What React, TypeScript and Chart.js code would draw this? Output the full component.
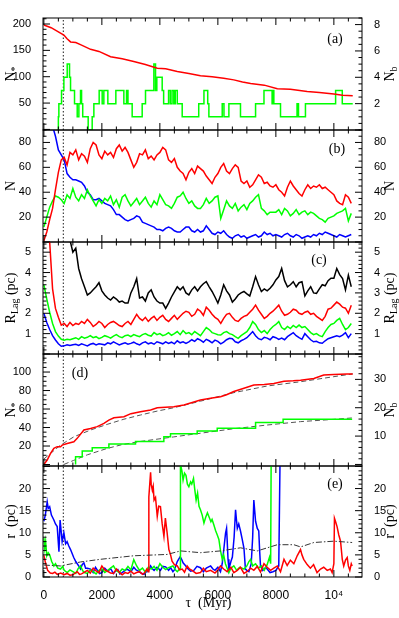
import React, { useEffect, useRef } from 'react';
import { Chart, registerables } from 'chart.js';

Chart.register(...registerables);

const W = 399;
const H = 618;

// ---------------- shared axis ----------------
const TAU_MIN = -30;
const TAU_MAX = 10970;
const TAU_MAJOR = 2000;
const TAU_MINOR = 500;
const TAU_TICKS = [0, 2000, 4000, 6000, 8000, 10000];
const DOTTED_TAU = 670;

// ---------------- panel (a) ----------------
const aRedTau = [0, 250, 500, 690, 800, 920, 1100, 1300, 1610, 1900, 2300, 2700, 3100, 3500, 3910, 4200, 4600, 5000, 5400, 5800, 6200, 6550, 6850, 7130, 7600, 8050, 8500, 9080, 9500, 10000, 10300, 10650];
const aRedN = [198, 193, 185, 179, 172, 166, 165, 160, 152, 148, 138, 134, 129, 123, 116, 115, 110, 106, 102, 100, 97, 94, 90, 87, 84, 77, 76, 72, 70, 67, 65, 64];
const aGreenTau = [500, 517, 609, 690, 805, 885, 920, 1057, 1150, 1207,
  1264, 1300, 1340, 1528, 1666, 1724, 1907, 2011, 2068, 2206,
  2482, 2758, 2850, 2900, 3045, 3390, 3505, 3793, 3850, 3895,
  4080, 4130, 4300, 4360, 4420, 4480, 4530, 4600, 4770, 5340,
  5520, 5650, 5690, 6150, 6210, 6380, 6780, 7300, 7590, 7870,
  7900, 7930, 8160, 8730, 8780, 9020, 10060, 10290, 10600, 10650];
const aGreenNb = [0, 1, 2, 3, 4, 5, 4, 3, 2, 1,
  2, 3, 2, 1, 0, 1, 2, 3, 2, 3,
  2, 3, 2, 3, 2, 1, 2, 3, 5, 3,
  4, 3, 2, 3, 2, 3, 2, 3, 2, 1,
  2, 3, 2, 1, 2, 1, 2, 1, 2, 3,
  2, 3, 2, 1, 2, 1, 2, 3, 2, 2];
const aLeftTicks = [50, 100, 150, 200];
const aRightTicks = [2, 4, 6, 8];

// ---------------- panels (b), (c): 100 Myr grid ----------------
const gridTau = [0, 100, 200, 300, 400, 500, 600, 700, 800, 900,
  1000, 1100, 1200, 1300, 1400, 1500, 1600, 1700, 1800, 1900,
  2000, 2100, 2200, 2300, 2400, 2500, 2600, 2700, 2800, 2900,
  3000, 3100, 3200, 3300, 3400, 3500, 3600, 3700, 3800, 3900,
  4000, 4100, 4200, 4300, 4400, 4500, 4600, 4700, 4800, 4900,
  5000, 5100, 5200, 5300, 5400, 5500, 5600, 5700, 5800, 5900,
  6000, 6100, 6200, 6300, 6400, 6500, 6600, 6700, 6800, 6900,
  7000, 7100, 7200, 7300, 7400, 7500, 7600, 7700, 7800, 7900,
  8000, 8100, 8200, 8300, 8400, 8500, 8600, 8700, 8800, 8900,
  9000, 9100, 9200, 9300, 9400, 9500, 9600, 9700, 9800, 9900,
  10000, 10100, 10200, 10300, 10400, 10500, 10600];

const bRed = [1, 8, 18, 27, 42, 56, 66, 68, 62, 72,
  70, 74, 66, 71, 69, 64, 75, 80, 78, 70,
  67, 73, 70, 72, 68, 75, 78, 73, 76, 72,
  66, 60, 64, 71, 70, 74, 67, 69, 66, 70,
  72, 76, 74, 66, 64, 67, 60, 57, 55, 50,
  56, 59, 55, 61, 59, 57, 53, 50, 47, 52,
  55, 60, 63, 57, 55, 59, 62, 60, 49, 47,
  49, 44, 46, 50, 54, 52, 47, 48, 45, 44,
  46, 42, 40, 37, 44, 49, 45, 42, 39, 37,
  42, 46, 43, 45, 44, 46, 43, 44, 42, 40,
  38, 33, 31, 30, 38, 36, 31];
const bGreen = [12, 20, 28, 33, 37, 36, 34, 31, 38, 35,
  43, 36, 33, 38, 35, 42, 37, 33, 29, 34,
  31, 35, 33, 37, 30, 34, 28, 36, 38, 33,
  29, 32, 35, 30, 33, 36, 31, 28, 33, 30,
  38, 34, 30, 29, 27, 31, 36, 37, 40, 35,
  31, 33, 29, 27, 27, 30, 35, 31, 33, 36,
  37, 19, 26, 33, 29, 27, 31, 25, 28, 30,
  26, 31, 33, 36, 38, 27, 25, 22, 24, 24,
  24, 26, 22, 27, 25, 21, 23, 26, 22, 24,
  25, 22, 24, 23, 21, 19, 18, 16, 19, 20,
  21, 23, 24, 25, 27, 17, 23];
const bBlue = [125, 112, 100, 93, 85, 74, 70, 66, 55, 52,
  50, 50, 49, 48, 45, 40, 38, 34, 34, 35,
  33, 31, 30, 29, 26, 22, 22, 20, 18, 17,
  18, 19, 21, 20, 16, 15, 14, 13, 12, 10,
  10, 9, 11, 12, 11, 9, 8, 8, 10, 12,
  12, 9, 8, 10, 8, 9, 13, 10, 7, 6,
  8, 7, 9, 6, 4, 3, 5, 6, 4, 5,
  3, 4, 5, 6, 4, 5, 8, 6, 7, 5,
  6, 5, 4, 6, 7, 5, 4, 6, 5, 3,
  4, 5, 4, 6, 5, 7, 6, 8, 7, 6,
  5, 4, 6, 5, 4, 5, 6];
const bTicks = [20, 40, 60, 80];

const cRed = [12, 7.5, 5.5, 3.2, 2.24, 1.8, 1.42, 1.5, 1.35, 1.55,
  1.4, 1.5, 1.45, 1.6, 1.5, 1.7, 1.55, 1.35, 1.45, 1.6,
  1.5, 1.3, 1.45, 1.55, 1.6, 1.5, 1.4, 1.35, 1.5, 1.6,
  1.45, 1.7, 1.95, 1.75, 1.65, 1.8, 1.6, 1.75, 1.85, 1.65,
  1.8, 1.9, 1.7, 1.6, 1.75, 1.9, 1.7, 1.85, 2.0, 2.1,
  2.05, 1.85, 1.95, 2.2, 2.1, 1.9, 2.3, 2.15, 1.95, 1.8,
  1.7, 1.5, 1.75, 1.95, 2.0, 1.8, 1.65, 1.6, 1.75, 1.85,
  1.9, 2.05, 2.2, 2.4, 2.15, 1.95, 1.75, 1.85, 2.0, 2.1,
  2.25, 2.4, 2.1, 1.9, 1.95, 2.05, 2.2, 2.15, 2.0, 1.95,
  2.05, 2.1, 1.95, 2.0, 1.85, 1.75, 1.65, 1.85, 2.2, 2.25,
  2.4, 2.55, 2.45, 2.3, 2.25, 2.0, 2.4];
const cGreen = [3.4, 2.7, 2.05, 1.5, 1.1, 0.88, 0.72, 0.68, 0.72, 0.7,
  0.75, 0.8, 0.72, 0.85, 0.78, 0.82, 0.9, 0.8, 0.85, 0.75,
  0.82, 0.9, 0.85, 0.78, 0.88, 0.95, 0.85, 0.8, 0.9, 0.93,
  0.85, 0.95, 0.9, 0.85, 0.95, 1.0, 0.92, 0.88, 1.05, 0.95,
  1.0, 0.9, 0.95, 1.05, 0.92, 1.0, 1.1, 0.95, 1.15, 1.0,
  1.05, 0.95, 1.1, 1.0, 0.9, 1.1, 1.3, 1.2, 1.05, 1.0,
  0.95, 0.93, 1.05, 1.1, 1.0, 0.95, 0.85, 0.77, 0.9, 1.0,
  1.1, 1.3, 1.59, 1.45, 1.2, 1.05, 1.15, 1.0, 1.2, 1.35,
  1.45, 1.59, 1.3, 1.2, 1.35, 1.25, 1.4, 1.3, 1.42, 1.3,
  1.35, 1.2, 1.05, 0.95, 1.0, 0.9, 0.85, 1.1, 1.3, 1.45,
  1.5, 1.65, 1.75, 1.45, 1.2, 1.3, 1.5];
const cBlue = [2.0, 1.55, 1.2, 0.9, 0.69, 0.5, 0.38, 0.4, 0.45, 0.42,
  0.45, 0.48, 0.42, 0.5, 0.45, 0.4, 0.48, 0.52, 0.45, 0.5,
  0.48, 0.45, 0.55, 0.5, 0.6, 0.52, 0.45, 0.5, 0.55, 0.48,
  0.52, 0.58, 0.5, 0.45, 0.55, 0.6, 0.5, 0.55, 0.48, 0.6,
  0.55, 0.5, 0.6, 0.52, 0.58, 0.5, 0.65, 0.55, 0.6, 0.52,
  0.6, 0.7, 0.62, 0.75, 0.68, 0.58, 0.72, 0.65, 0.55, 0.68,
  0.62, 0.5, 0.58, 0.7, 0.77, 0.75, 0.6, 0.55, 0.65, 0.72,
  0.8, 0.95, 1.1, 0.9, 0.75, 0.7, 0.82, 0.78, 0.7, 0.85,
  0.8, 0.72, 0.78, 0.7, 0.85, 0.95, 1.05, 0.9, 0.8, 0.72,
  1.0, 0.85, 0.7, 0.6, 0.62, 0.55, 0.53, 0.65, 0.75, 0.8,
  0.85, 0.9, 0.85, 0.93, 1.05, 0.8, 1.0];
const cBlack = [null, null, null, null, null, null, null, null, null, 5.6,
  5.0, 5.2, 4.2, 3.7, 3.3, 2.9, 3.0, 3.15, 3.3, 3.5,
  3.1, 2.9, 2.75, 2.65, 2.8, 2.7, 2.55, 2.6, 2.5, 2.5,
  3.0, 3.3, 3.7, 2.75, 2.8, 2.6, 3.0, 3.15, 2.8, 2.6,
  2.5, 2.5, 2.24, 2.5, 2.8, 3.05, 3.3, 3.15, 3.3, 3.0,
  2.9, 3.15, 3.3, 3.1, 3.3, 3.45, 3.55, 3.3, 3.07, 2.8,
  2.5, 2.9, 3.4, 3.1, 2.9, 2.55, 2.7, 2.9, 3.0, 3.07,
  2.95, 2.85, 3.3, 3.8, 3.4, 3.07, 3.2, 3.1, 3.23, 3.4,
  3.64, 3.8, 4.2, 3.6, 3.3, 3.4, 3.55, 3.3, 3.5, 3.55,
  2.85, 3.1, 3.3, 3.0, 2.98, 3.2, 3.4, 3.35, 3.6, 3.72,
  3.72, 4.2, 3.9, 3.7, 3.15, 3.87, 3.3];
const cTicks = [1, 2, 3, 4, 5];

// ---------------- panel (d) ----------------
const dRedTau = [0, 115, 230, 345, 460, 575, 632, 805, 1035, 1150,
  1380, 1610, 1840, 2070, 2240, 2415, 2760, 3000, 3330, 3680,
  3910, 4480, 4830, 5400, 5800, 6090, 6300, 6550, 6900, 7240,
  7600, 7930, 8280, 8600, 8850, 9310, 9650, 10000, 10460, 10650];
const dRedN = [0, 4.9, 12, 17.5, 19.3, 19.3, 21, 22.8, 24.6, 28.3,
  37.3, 39, 41, 44.5, 48, 50.6, 51.7, 55, 57, 58.9,
  61.4, 62.5, 64.3, 69.7, 72, 73.3, 75.5, 78.9, 82.5, 85.9,
  86.5, 87.6, 90.1, 90.6, 91.2, 93, 96.8, 97.2, 97.8, 98];
const dRedFitTau = [0, 575, 1035, 1610, 2180, 2760, 3330, 3910, 4480, 5400, 6550, 7700, 8850, 10000, 10650];
const dRedFitN = [6, 21, 30, 37.3, 43.4, 49, 53.5, 57.8, 61.4, 68.5, 77.7, 84.9, 89.5, 95, 98];
const dGreenTau = [1093, 1093, 1323, 1668, 2242, 3160, 4137, 4367, 5287, 5978, 7300, 8250, 9080, 10630];
const dGreenNb = [0, 1.5, 2.7, 4.7, 5.9, 7.2, 8.1, 9.8, 10.8, 11.8, 12.8, 14.8, 15.9, 15.9];
const dGreenFitTau = [690, 1020, 1500, 2170, 2700, 3320, 4470, 5390, 6550, 7700, 8850, 10000, 10630];
const dGreenFitNb = [0, 1.4, 3.4, 5.6, 7.0, 8.1, 9.7, 11, 12.6, 13.9, 15.1, 15.9, 16.4];
const dLeftTicks = [20, 40, 60, 80, 100];
const dRightTicks = [10, 20, 30];

// ---------------- panel (e) ----------------
const eRedTau = [0, 50, 130, 220, 300, 380, 460, 580, 700, 800,
  900, 1000, 1080, 1150, 1230, 1300, 1400, 1500, 1600, 1700,
  1800, 1900, 2000, 2100, 2200, 2300, 2400, 2500, 2600, 2700,
  2800, 2900, 3000, 3100, 3200, 3300, 3400, 3480, 3550, 3600,
  3620, 3680, 3700, 3740, 3770, 3800, 3850, 3910, 3960, 4020,
  4080, 4140, 4190, 4250, 4310, 4370, 4420, 4500, 4600, 4680,
  4770, 4850, 4940, 5020, 5110, 5250, 5400, 5500, 5600, 5750,
  5900, 6000, 6090, 6200, 6320, 6450, 6550, 6670, 6780, 6900,
  7000, 7130, 7240, 7360, 7470, 7590, 7700, 7820, 7930, 8050,
  8160, 8280, 8390, 8500, 8620, 8735, 8850, 8900, 8960, 9080,
  9190, 9300, 9420, 9540, 9650, 9770, 9880, 9940, 10000, 10020,
  10060, 10110, 10170, 10230, 10290, 10340, 10400, 10460, 10500, 10550,
  10600, 10630];
const eRedR = [4.9, 3.4, 1.5, 0.9, 0.8, 1.1, 0.6, 0.9, 0.5, 0.8,
  0.4, 0.5, 0.9, 1.2, 0.6, 0.7, 1.1, 1.5, 0.9, 2.0,
  1.4, 1.0, 2.5, 1.6, 1.3, 0.9, 0.8, 1.8, 1.1, 0.5,
  1.0, 0.8, 1.3, 0.7, 1.0, 1.2, 0.6, 1.0, 1.8, 1.2,
  18.1, 23.7, 21, 19.6, 20.5, 17.4, 18, 13.7, 16, 15.9,
  12, 9.2, 13.3, 10, 6.2, 5, 3.6, 2.8, 2.5, 1.6,
  1.8, 1.1, 2.5, 1.8, 1.5, 0.8, 1.0, 2.0, 1.2, 1.5,
  0.9, 1.6, 2.5, 1.8, 1.2, 2.2, 1.0, 1.5, 2.2, 0.8,
  1.2, 2.0, 1.5, 2.4, 1.1, 3.0, 2.2, 1.5, 2.0, 2.5,
  1.2, 4.0, 2.6, 3.8, 3.0, 4.8, 6.2, 5.0, 4.0, 2.8,
  2.0, 2.8, 1.0, 1.8, 2.2, 1.5, 1.8, 1.0, 3.0, 13.3,
  12.5, 11.4, 9.5, 8.1, 4.0, 2.5, 3.8, 4.4, 2.5, 1.5,
  3.0, 2.5];
const eGreenTau = [0, 30, 60, 100, 150, 200, 270, 345, 400, 480,
  575, 650, 700, 805, 900, 1000, 1100, 1180, 1264, 1340,
  1400, 1500, 1600, 1700, 1800, 1900, 2000, 2100, 2200, 2300,
  2400, 2500, 2600, 2700, 2800, 2900, 3000, 3100, 3200, 3300,
  3400, 3500, 3600, 3700, 3800, 3900, 4000, 4100, 4200, 4300,
  4450, 4550, 4600, 4700, 4710, 4760, 4800, 4850, 4900, 4950,
  5000, 5060, 5100, 5160, 5200, 5250, 5300, 5350, 5400, 5460,
  5520, 5580, 5640, 5690, 5760, 5800, 5860, 5920, 5980, 6035,
  6090, 6150, 6200, 6260, 6320, 6380, 6450, 6550, 6650, 6750,
  6900, 7000, 7070, 7130, 7200, 7300, 7400, 7500, 7600, 7700,
  7780, 7820, 7840];
const eGreenR = [8.8, 6.5, 8.0, 4.8, 5.5, 5.0, 3.5, 2.5, 3.0, 2.0,
  1.8, 2.4, 1.5, 1.0, 1.6, 1.2, 0.8, 1.9, 2.5, 1.4,
  1.0, 0.8, 1.6, 1.2, 0.7, 1.5, 1.8, 1.0, 1.5, 2.0,
  2.5, 1.4, 1.0, 1.8, 1.5, 2.4, 1.6, 3.9, 2.5, 1.5,
  2.0, 1.1, 2.2, 1.8, 2.4, 1.5, 3.0, 2.2, 1.7, 2.1,
  2.5, 1.5, 1.2, 2.0, 25.5, 24.0, 21.9, 23.5, 23.0, 21.0,
  20.4, 21.5, 21.0, 22.3, 20.0, 17.4, 19.0, 16.0, 15.2, 14.0,
  12.2, 13.5, 14.5, 13.7, 12.5, 13.0, 11.8, 10.5, 9.5, 8.5,
  6.0, 4.0, 5.0, 3.0, 2.0, 1.0, 2.0, 2.5, 1.5, 2.2,
  1.8, 2.5, 3.5, 4.0, 2.5, 3.0, 2.0, 2.5, 1.5, 2.8,
  4.5, 3.0, 30];
const eBlueTau = [0, 50, 115, 150, 200, 260, 345, 400, 460, 520,
  560, 630, 690, 750, 800, 860, 920, 1030, 1100, 1200,
  1264, 1320, 1380, 1440, 1500, 1610, 1700, 1780, 1850, 1920,
  2000, 2100, 2200, 2300, 2400, 2480, 2550, 2620, 2700, 2800,
  2870, 3000, 3100, 3180, 3250, 3350, 3450, 3530, 3600, 3680,
  3750, 3800, 3900, 4020, 4100, 4200, 4300, 4370, 4450, 4500,
  4600, 4700, 4750, 4800, 4880, 4950, 5060, 5170, 5280, 5400,
  5500, 5600, 5750, 5830, 5900, 6000, 6090, 6150, 6200, 6265,
  6300, 6320, 6350, 6380, 6450, 6500, 6560, 6610, 6640, 6670,
  6720, 6780, 6840, 6900, 6950, 7000, 7070, 7150, 7200, 7240,
  7270, 7300, 7360, 7410, 7440, 7470, 7550, 7650, 7700, 7800,
  7900, 8000, 8100, 8150];
const eBlueR = [12.6, 14, 17, 15.5, 15.9, 14, 12.9, 12, 11.4, 5.7,
  12.9, 8, 10, 7.5, 8, 7.0, 6.2, 4.4, 3.5, 2.5,
  1.8, 2.8, 3.2, 2.0, 2.0, 1.8, 1.0, 2.2, 1.5, 0.8,
  1.0, 2.0, 1.3, 1.9, 0.8, 1.4, 1.7, 0.7, 1.0, 1.5,
  1.8, 1.2, 2.2, 1.6, 1.4, 0.9, 0.6, 1.2, 1.3, 2.5,
  1.8, 1.5, 2.2, 1.5, 2.4, 2.3, 1.5, 2.1, 1.2, 1.6,
  3.5, 4.6, 4.0, 3.2, 2.6, 2.0, 1.3, 1.5, 2.4, 2.1,
  1.2, 2.0, 2.5, 1.8, 1.5, 2.2, 1.2, 3.0, 6.0, 9.9,
  11, 8.4, 4.0, 1.8, 3.5, 4.5, 9.0, 15.2, 13.0, 11,
  12.0, 10.4, 8.5, 6.5, 1.8, 1.5, 1.2, 3.0, 9.0, 17.4,
  15.0, 12.6, 11.0, 10.4, 6.0, 2.5, 1.5, 2.2, 1.8, 1.0,
  1.2, 1.5, 2.5, 30];
const eBlackTau = [0, 575, 1264, 1950, 3100, 4250, 4710, 5400, 6090, 6780, 7360, 8050, 8620, 8850, 9310, 10000, 10630];
const eBlackR = [2.7, 2.5, 3.4, 4.0, 4.8, 5.1, 5.9, 5.5, 5.9, 6.6, 5.9, 7.3, 7.3, 6.8, 7.8, 8.1, 7.8];
const eTicks = [0, 5, 10, 15, 20];

// ---------------- styling ----------------
const RED = '#ff0000';
const GREEN = '#00ff00';
const BLUE = '#0000ff';
const BLACK = '#000000';
const SANS = '"Liberation Sans", Arial, sans-serif';
const SERIF = '"Liberation Serif", "Times New Roman", serif';
const LINE_W = 1.5;

type Part = { t: string; sub?: boolean };

function pts(tau: number[], vals: (number | null)[]) {
  return tau.map((t, i) => ({ x: t, y: vals[i] }));
}

function line(data: any[], color: string, yAxisID = 'y', extra: any = {}) {
  return { data, borderColor: color, backgroundColor: color, borderWidth: LINE_W, pointRadius: 0, fill: false, yAxisID, ...extra };
}

function dotted(yMin: number, yMax: number) {
  return line([{ x: DOTTED_TAU, y: yMin }, { x: DOTTED_TAU, y: yMax }], BLACK, 'y', { borderWidth: 0.9, borderDash: [1.5, 2] });
}

function drawParts(ctx: CanvasRenderingContext2D, parts: Part[], x: number, y: number, rotate: boolean, size = 14) {
  ctx.save();
  ctx.translate(x, y);
  if (rotate) ctx.rotate(-Math.PI / 2);
  const main = `${size}px ${SERIF}`;
  const sub = `${Math.round(size * 0.7)}px ${SERIF}`;
  let w = 0;
  for (const p of parts) { ctx.font = p.sub ? sub : main; w += ctx.measureText(p.t).width; }
  let cx = -w / 2;
  ctx.textBaseline = 'middle';
  ctx.textAlign = 'left';
  ctx.fillStyle = '#000';
  for (const p of parts) {
    ctx.font = p.sub ? sub : main;
    ctx.fillText(p.t, cx, p.sub ? size * 0.32 : 0);
    cx += ctx.measureText(p.t).width;
  }
  ctx.restore();
}

const smFramePlugin = {
  id: 'smFrame',
  afterDraw(chart: any, _args: any, opts: any) {
    const { ctx, chartArea: a, scales } = chart;
    ctx.save();
    ctx.strokeStyle = '#000';
    ctx.lineWidth = 1;
    ctx.setLineDash([]);
    ctx.strokeRect(a.left, a.top, a.right - a.left, a.bottom - a.top);
    const tick = (scale: any, minor: number, major: number, draw: (p: number, l: number) => void) => {
      const n0 = Math.ceil(scale.min / minor - 1e-9);
      const n1 = Math.floor(scale.max / minor + 1e-9);
      for (let n = n0; n <= n1; n++) {
        const v = n * minor;
        const isMajor = Math.abs(v / major - Math.round(v / major)) < 1e-6;
        draw(scale.getPixelForValue(v), isMajor ? 7 : 3.5);
      }
    };
    ctx.beginPath();
    tick(scales.x, TAU_MINOR, TAU_MAJOR, (p, l) => {
      ctx.moveTo(p, a.bottom); ctx.lineTo(p, a.bottom - l);
      ctx.moveTo(p, a.top); ctx.lineTo(p, a.top + l);
    });
    tick(scales.y, opts.yMinor, opts.yMajor, (p, l) => { ctx.moveTo(a.left, p); ctx.lineTo(a.left + l, p); });
    tick(scales.y2, opts.y2Minor, opts.y2Major, (p, l) => { ctx.moveTo(a.right, p); ctx.lineTo(a.right - l, p); });
    ctx.stroke();
    const cy = (a.top + a.bottom) / 2;
    drawParts(ctx, opts.leftTitle, 11, cy, true);
    drawParts(ctx, opts.rightTitle, 390, cy, true);
    const lx = opts.labelSide === 'left' ? a.left + opts.labelDx : a.right - opts.labelDx;
    drawParts(ctx, [{ t: opts.label }], lx, a.top + opts.labelDy, false, 14);
    if (opts.bottomTitle) drawParts(ctx, opts.bottomTitle, (a.left + a.right) / 2 + 6, a.bottom + 26, false, 14);
    ctx.restore();
  },
};

type AxisSpec = { min: number; max: number; major: number; minor: number; ticks: number[] };
type PanelSpec = {
  top: number; bottom: number; showX: boolean;
  y: AxisSpec; y2: AxisSpec; datasets: any[];
  leftTitle: Part[]; rightTitle: Part[];
  label: string; labelSide: 'left' | 'right'; labelDx: number; labelDy: number;
  bottomTitle?: Part[];
};

function yAxis(ax: AxisSpec, position: 'left' | 'right', width: number) {
  return {
    type: 'linear', position, min: ax.min, max: ax.max,
    grid: { display: false }, border: { display: false },
    afterBuildTicks: (s: any) => { s.ticks = ax.ticks.map((v) => ({ value: v })); },
    ticks: {
      autoSkip: false, padding: 4, color: '#000',
      font: { family: SANS, size: 11 },
      callback: (v: number) => String(v),
    },
    afterFit: (s: any) => { s.width = width; },
  };
}

function buildConfig(spec: PanelSpec): any {
  const xAxis: any = {
    type: 'linear', min: TAU_MIN, max: TAU_MAX, display: spec.showX,
    grid: { display: false }, border: { display: false },
    afterBuildTicks: (s: any) => { s.ticks = TAU_TICKS.map((v) => ({ value: v })); },
    ticks: {
      autoSkip: false, maxRotation: 0, minRotation: 0, padding: 3, color: '#000',
      font: { family: SANS, size: 12 },
      callback: (v: number) => (v === 10000 ? '10\u2074' : String(v)),
    },
  };
  if (spec.showX) xAxis.afterFit = (s: any) => { s.height = H - spec.bottom; };
  return {
    type: 'line',
    data: { datasets: spec.datasets },
    options: {
      responsive: false,
      animation: false,
      events: [],
      layout: { padding: { top: spec.top, bottom: spec.showX ? 0 : H - spec.bottom, left: 0, right: 0 } },
      plugins: {
        legend: { display: false },
        tooltip: { enabled: false },
        smFrame: {
          yMajor: spec.y.major, yMinor: spec.y.minor, y2Major: spec.y2.major, y2Minor: spec.y2.minor,
          leftTitle: spec.leftTitle, rightTitle: spec.rightTitle,
          label: spec.label, labelSide: spec.labelSide, labelDx: spec.labelDx, labelDy: spec.labelDy,
          bottomTitle: spec.bottomTitle,
        },
      },
      elements: { point: { radius: 0 }, line: { tension: 0 } },
      scales: {
        x: xAxis,
        y: yAxis(spec.y, 'left', 43),
        y2: yAxis(spec.y2, 'right', W - 362),
      },
    },
    plugins: [smFramePlugin],
  };
}

const aY = { min: -1.1, max: 211.4, major: 50, minor: 10, ticks: aLeftTicks };
const aY2 = { min: 0, max: 8.5, major: 2, minor: 0.5, ticks: aRightTicks };
const bY = { min: 0, max: 90, major: 20, minor: 5, ticks: bTicks };
const cY = { min: 0, max: 5.5, major: 1, minor: 0.2, ticks: cTicks };
const dY = { min: -1.6, max: 119.5, major: 20, minor: 5, ticks: dLeftTicks };
const dY2 = { min: -0.55, max: 38.95, major: 10, minor: 2, ticks: dRightTicks };
const eY = { min: 0, max: 25.1, major: 5, minor: 1, ticks: eTicks };

const N_STAR: Part[] = [{ t: 'N' }, { t: '*', sub: true }];
const N_B: Part[] = [{ t: 'N' }, { t: 'b', sub: true }];
const R_LAG: Part[] = [{ t: 'R' }, { t: 'Lag', sub: true }, { t: ' (pc)' }];
const R_PC: Part[] = [{ t: 'r  (pc)' }];

const PANELS: PanelSpec[] = [
  {
    top: 18, bottom: 130, showX: false, y: aY, y2: aY2,
    datasets: [
      line(pts(aRedTau, aRedN), RED, 'y'),
      line(pts(aGreenTau, aGreenNb), GREEN, 'y2', { stepped: 'after' }),
      dotted(aY.min, aY.max),
    ],
    leftTitle: N_STAR, rightTitle: N_B, label: '(a)', labelSide: 'right', labelDx: 27, labelDy: 21,
  },
  {
    top: 130, bottom: 242, showX: false, y: bY, y2: bY,
    datasets: [
      line(pts(gridTau, bRed), RED, 'y'),
      line(pts(gridTau, bGreen), GREEN, 'y'),
      line(pts(gridTau, bBlue), BLUE, 'y'),
      dotted(bY.min, bY.max),
    ],
    leftTitle: [{ t: 'N' }], rightTitle: [{ t: 'N' }], label: '(b)', labelSide: 'right', labelDx: 25, labelDy: 19,
  },
  {
    top: 242, bottom: 354, showX: false, y: cY, y2: cY,
    datasets: [
      line(pts(gridTau, cBlack), BLACK, 'y'),
      line(pts(gridTau, cRed), RED, 'y'),
      line(pts(gridTau, cGreen), GREEN, 'y'),
      line(pts(gridTau, cBlue), BLUE, 'y'),
      dotted(cY.min, cY.max),
    ],
    leftTitle: R_LAG, rightTitle: R_LAG, label: '(c)', labelSide: 'right', labelDx: 43, labelDy: 18,
  },
  {
    top: 354, bottom: 466, showX: false, y: dY, y2: dY2,
    datasets: [
      line(pts(dRedTau, dRedN), RED, 'y'),
      line(pts(dGreenTau, dGreenNb), GREEN, 'y2', { stepped: 'after' }),
      line(pts(dRedFitTau, dRedFitN), '#555555', 'y', { borderWidth: 1, borderDash: [5, 3] }),
      line(pts(dGreenFitTau, dGreenFitNb), '#555555', 'y2', { borderWidth: 1, borderDash: [5, 3] }),
      dotted(dY.min, dY.max),
    ],
    leftTitle: N_STAR, rightTitle: N_B, label: '(d)', labelSide: 'left', labelDx: 37, labelDy: 19,
  },
  {
    top: 466, bottom: 577, showX: true, y: eY, y2: eY,
    datasets: [
      line(pts(eBlackTau, eBlackR), '#333333', 'y', { borderWidth: 1, borderDash: [6, 2, 1.5, 2] }),
      line(pts(eRedTau, eRedR), RED, 'y'),
      line(pts(eGreenTau, eGreenR), GREEN, 'y'),
      line(pts(eBlueTau, eBlueR), BLUE, 'y'),
      dotted(eY.min, eY.max),
    ],
    leftTitle: R_PC, rightTitle: R_PC, label: '(e)', labelSide: 'right', labelDx: 27, labelDy: 18,
    bottomTitle: [{ t: '\u03c4  (Myr)' }],
  },
];

function Panel({ spec }: { spec: PanelSpec }) {
  const ref = useRef<HTMLCanvasElement | null>(null);
  useEffect(() => {
    if (!ref.current) return;
    const chart = new Chart(ref.current, buildConfig(spec));
    return () => chart.destroy();
  }, [spec]);
  return (
    <canvas
      ref={ref}
      width={W}
      height={H}
      style={{ position: 'absolute', left: 0, top: 0, width: W, height: H }}
    />
  );
}

export default function App() {
  return (
    <div style={{ position: 'absolute', left: 0, top: 0, width: W, height: H, background: '#ffffff' }}>
      {PANELS.map((p, i) => (
        <Panel key={i} spec={p} />
      ))}
    </div>
  );
}
